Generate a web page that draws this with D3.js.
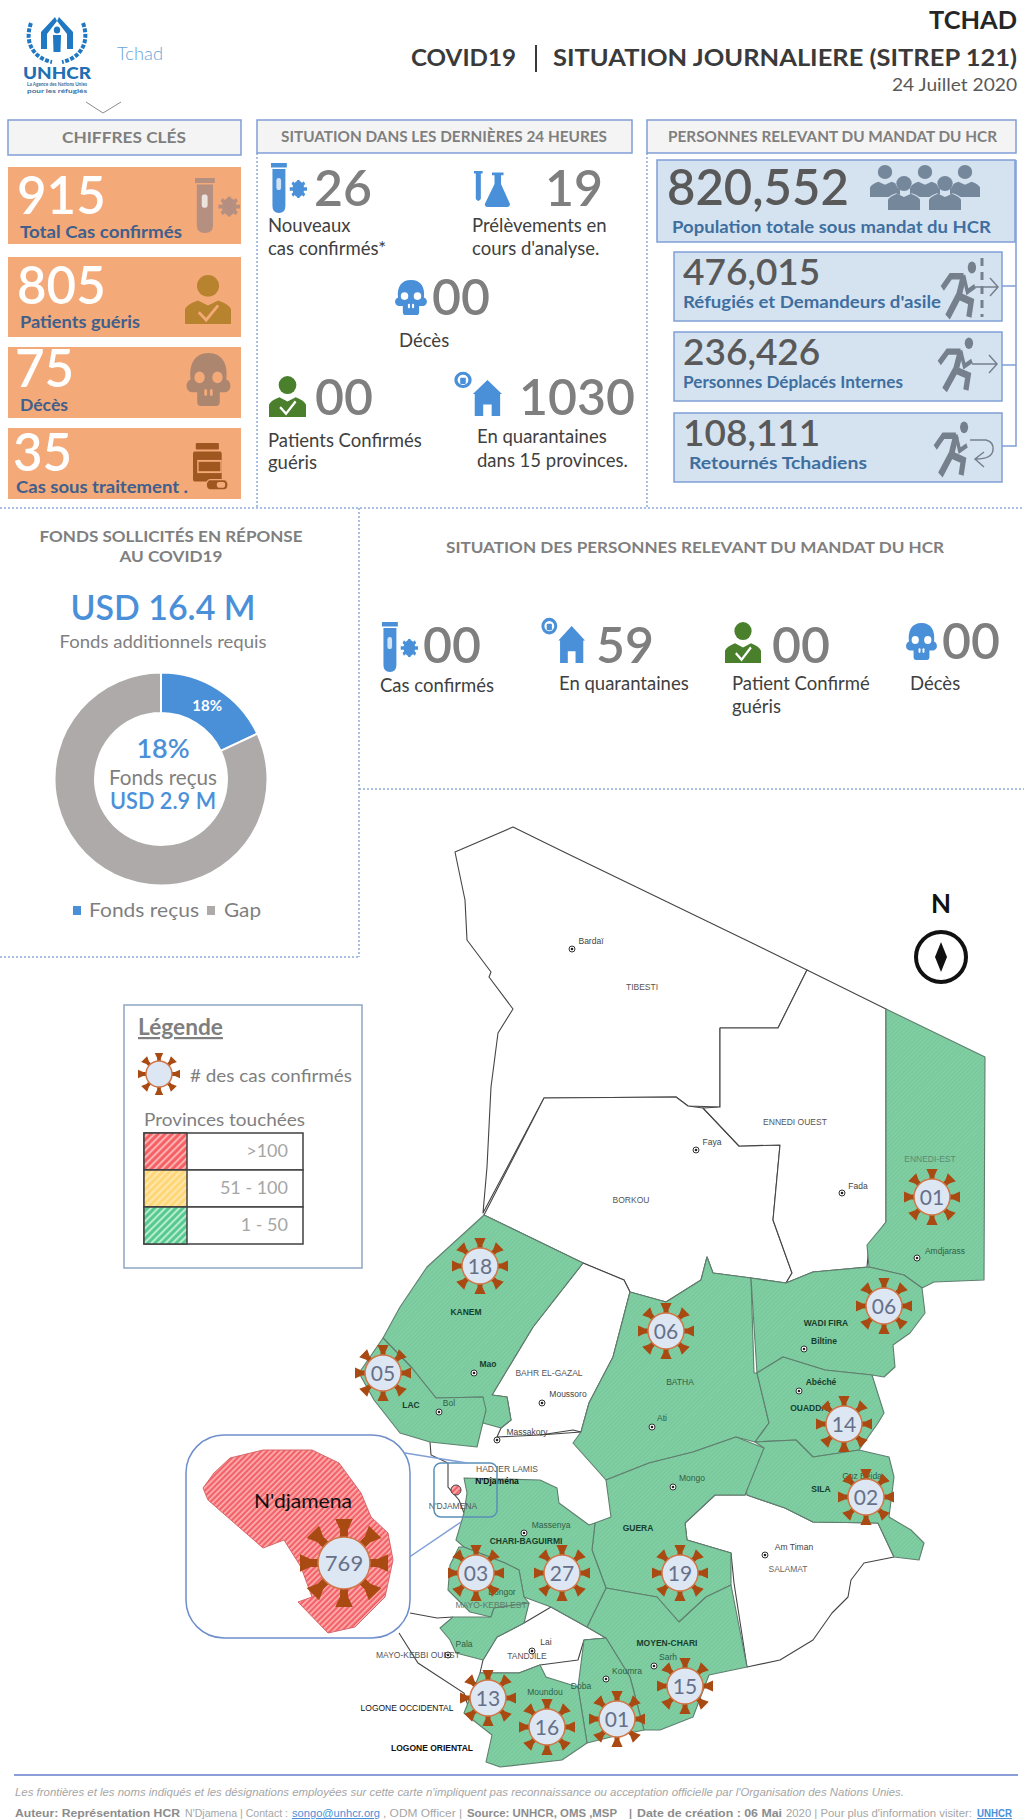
<!DOCTYPE html>
<html>
<head>
<meta charset="utf-8">
<script src="https://cdnjs.cloudflare.com/ajax/libs/d3/7.8.5/d3.min.js"></script>
<style>
	html, body { margin: 0; padding: 0; background: #fff; }
	svg { display: block; font-family: Lato, sans-serif; }
</style>
</head>
<body>
<svg id="page" width="1024" height="1820"></svg>
<script>
// key figures
const keyValues = [915, 805, 75, 35];
const keyLabels = ["Total Cas confirmés", "Patients guéris", "Décès", "Cas sous traitement ."];

// last 24 hours
const dayValues = ["26", "19", "00", "00", "1030"];
const dayLabels = [["Nouveaux", "cas confirmés*"], ["Prélèvements en", "cours d'analyse."], ["Décès"], ["Patients Confirmés", "guéris"], ["En quarantaines", "dans 15 provinces."]];

// persons of concern
const pocValues = [820552, 476015, 236426, 108111];
const pocLabels = ["Population totale sous mandat du HCR", "Réfugiés et Demandeurs d'asile", "Personnes Déplacés Internes", "Retournés Tchadiens"];
const pocCovidValues = ["00", "59", "00", "00"];
const pocCovidLabels = [["Cas confirmés"], ["En quarantaines"], ["Patient Confirmé", "guéris"], ["Décès"]];

// funding
const fundingCategories = ["Fonds reçus", "Gap"];
const fundingShares = [18, 82];

// map badges
const badgeProvinces = ["Ennedi Est", "Kanem", "Batha", "Wadi Fira", "Lac", "Ouaddaï", "Sila", "Mayo-Boneye", "Chari-Baguirmi", "Guéra", "Logone Occidental", "Logone Oriental", "Mandoul", "Moyen-Chari"];
const badgeCases = [1, 18, 6, 6, 5, 14, 2, 3, 27, 19, 13, 16, 1, 15];
const ndjamenaCases = 769;
const legendClasses = [">100", "51 - 100", "1 - 50"];

// layout, in page pixels
const keyBoxes = [[167, 244, 214, 238, 17, 20, 182], [257, 337, 304, 328, 17, 20, 140], [347, 418, 387, 411, 15, 20, 68], [428, 499, 471, 493, 13, 16, 188]];
const badgeAnchors = [[932, 1197], [480, 1266], [666, 1331], [884, 1306], [383, 1373], [844, 1424], [866, 1497], [476, 1573], [562, 1573], [680, 1573], [488, 1698], [547, 1727], [617, 1719], [685, 1686]];

const whiteProvinces = [
	[[455,852],[513,827],[566,853],[657,897],[752,943],[807,970],[778,1028],[720,1028],[720,1107],[688,1106],[676,1097],[544,1098],[483,1213],[487,1167],[491,1087],[498,1033],[513,1009],[489,977],[491,972],[467,940],[465,900]],
	[[544,1098],[676,1097],[688,1106],[703,1108],[739,1146],[780,1145],[773,1220],[792,1273],[786,1283],[751,1278],[713,1273],[707,1257],[701,1280],[666,1302],[630,1292],[624,1280],[583,1263],[484,1215]],
	[[807,970],[886,1009],[886,1222],[869,1245],[867,1267],[813,1272],[786,1283],[792,1273],[773,1220],[780,1145],[739,1146],[703,1108],[720,1107],[720,1028],[778,1028]],
	[[583,1263],[624,1280],[630,1292],[613,1357],[589,1403],[581,1432],[540,1435],[497,1437],[501,1428],[511,1420],[507,1397],[492,1395],[507,1370],[533,1327]],
	[[764,1448],[745,1495],[715,1495],[685,1523],[687,1540],[731,1553],[734,1583],[747,1667],[780,1660],[813,1640],[832,1613],[848,1597],[851,1580],[864,1563],[894,1557],[878,1523],[813,1522],[785,1508],[747,1495]],
	[[551,1607],[587,1627],[606,1638],[584,1640],[578,1660],[540,1665],[519,1673],[480,1673],[483,1660],[497,1637],[524,1623]]
];
const greenProvinces = [
	[[886,1009],[985,1057],[984,1280],[934,1282],[922,1288],[904,1275],[869,1267],[867,1245],[886,1222]],
	[[484,1215],[583,1263],[533,1327],[507,1370],[492,1395],[507,1397],[511,1420],[501,1428],[483,1423],[483,1397],[436,1398],[412,1368],[383,1338],[400,1307],[427,1267]],
	[[383,1338],[412,1368],[436,1398],[483,1397],[486,1410],[477,1447],[430,1442],[400,1433],[374,1400],[359,1373]],
	[[630,1292],[666,1302],[701,1280],[707,1257],[713,1273],[751,1278],[754,1373],[757,1373],[769,1423],[755,1442],[736,1437],[693,1452],[649,1463],[606,1480],[573,1443],[581,1432],[589,1403],[613,1357]],
	[[751,1278],[786,1283],[813,1272],[869,1267],[904,1275],[922,1288],[925,1313],[910,1333],[893,1345],[895,1367],[884,1377],[872,1375],[825,1370],[783,1357],[757,1373]],
	[[757,1373],[783,1357],[825,1370],[872,1375],[884,1413],[878,1423],[859,1450],[813,1457],[796,1440],[755,1442],[769,1423]],
	[[764,1448],[755,1442],[796,1440],[813,1457],[859,1450],[889,1457],[894,1477],[889,1517],[911,1530],[924,1543],[919,1560],[894,1557],[878,1523],[813,1522],[785,1508],[747,1495],[745,1480]],
	[[764,1448],[745,1495],[715,1495],[685,1523],[687,1540],[731,1553],[731,1585],[706,1597],[679,1622],[657,1597],[606,1588],[592,1550],[595,1523],[611,1517],[606,1480],[649,1463],[693,1452],[736,1437]],
	[[606,1588],[657,1597],[679,1622],[706,1597],[731,1585],[747,1667],[709,1675],[693,1717],[660,1730],[644,1730],[630,1677],[606,1638],[587,1627]],
	[[584,1640],[606,1638],[630,1677],[644,1730],[611,1737],[587,1743],[578,1687]],
	[[578,1687],[587,1743],[562,1760],[500,1767],[486,1762],[492,1735],[464,1713],[480,1673],[519,1673],[540,1665],[546,1677]],
	[[464,1478],[540,1480],[557,1488],[559,1503],[589,1525],[595,1523],[592,1550],[606,1588],[587,1627],[551,1607],[524,1597],[519,1570],[505,1563],[464,1547],[456,1540],[464,1513],[467,1493]],
	[[459,1547],[464,1547],[505,1563],[519,1570],[524,1597],[529,1603],[494,1608],[491,1617],[470,1612],[448,1590],[450,1565]],
	[[440,1628],[453,1617],[491,1617],[494,1608],[529,1603],[524,1623],[497,1637],[483,1660],[456,1653],[450,1640]]
];
const borderLines = [
	[[430,1442],[431,1455],[448,1463],[448,1487],[459,1500],[464,1513]],
	[[399,1633],[418,1663],[464,1693],[470,1712]],
	[[410,1613],[437,1618],[453,1617]],
	[[546,1677],[553,1695],[566,1722],[587,1743]],
	[[540,1435],[573,1430],[581,1432]]
];
const ndjamenaShape = [[203,1488],[214,1473],[230,1458],[263,1450],[312,1450],[339,1463],[361,1493],[371,1517],[388,1533],[393,1560],[385,1597],[355,1627],[328,1633],[298,1602],[312,1597],[301,1567],[284,1540],[263,1548],[208,1500]];

const mapLabels = [
	["TIBESTI", 642, 990, "#555"], ["ENNEDI OUEST", 795, 1125, "#555"], ["BORKOU", 631, 1203, "#555"], ["ENNEDI-EST", 930, 1162, "#5d8a72"],
	["Bardaï", 591, 944, "#444"], ["Faya", 712, 1145, "#444"], ["Fada", 858, 1189, "#444"], ["Amdjarass", 945, 1254, "#2f5f46"],
	["KANEM", 466, 1315, "#173f2c", 1], ["Mao", 488, 1367, "#173f2c", 1], ["BAHR EL-GAZAL", 549, 1376, "#555"], ["Moussoro", 568, 1397, "#444"],
	["Massakory", 527, 1435, "#444"], ["LAC", 411, 1408, "#173f2c", 1], ["Bol", 449, 1406, "#2f5f46"], ["BATHA", 680, 1385, "#2f5f46"],
	["Ati", 662, 1421, "#2f5f46"], ["WADI FIRA", 826, 1326, "#173f2c", 1], ["Biltine", 824, 1344, "#173f2c", 1], ["Abéché", 821, 1385, "#173f2c", 1],
	["OUADDAÏ", 810, 1411, "#173f2c", 1], ["HADJER LAMIS", 507, 1472, "#555"], ["N'Djaména", 497, 1484, "#111", 1], ["N'DJAMENA", 453, 1509, "#555"],
	["Mongo", 692, 1481, "#2f5f46"], ["SILA", 821, 1492, "#173f2c", 1], ["Goz Beida", 862, 1479, "#2f5f46"], ["GUERA", 638, 1531, "#173f2c", 1],
	["Massenya", 551, 1528, "#2f5f46"], ["CHARI-BAGUIRMI", 526, 1544, "#173f2c", 1], ["Am Timan", 794, 1550, "#444"], ["SALAMAT", 788, 1572, "#666"],
	["Bongor", 502, 1595, "#2f5f46"], ["MAYO-KEBBI EST", 491, 1608, "#5d7a6c"], ["Pala", 464, 1647, "#2f5f46"], ["MAYO-KEBBI OUEST", 418, 1658, "#555"],
	["Lai", 546, 1645, "#444"], ["TANDJILE", 527, 1659, "#555"], ["MOYEN-CHARI", 667, 1646, "#173f2c", 1], ["Sarh", 668, 1660, "#2f5f46"],
	["Koumra", 627, 1674, "#2f5f46"], ["Doba", 581, 1689, "#2f5f46"], ["Moundou", 545, 1695, "#2f5f46"], ["LOGONE OCCIDENTAL", 407, 1711, "#111"], ["LOGONE ORIENTAL", 432, 1751, "#111", 1]
];
const cityDots = [[572,949],[696,1150],[842,1193],[917,1258],[474,1373],[542,1403],[497,1440],[439,1412],[652,1427],[804,1349],[799,1391],[673,1487],[524,1533],[765,1555],[448,1655],[532,1651],[654,1666],[606,1679]];

const svg = d3.select("#page");
const defs = svg.append("defs");

function hatch(id, base, stripe, size) {
	const p = defs.append("pattern")
		.attr("id", id)
		.attr("width", size)
		.attr("height", size)
		.attr("patternUnits", "userSpaceOnUse")
		.attr("patternTransform", "rotate(-45)");
	p.append("rect").attr("width", size).attr("height", size).attr("fill", base);
	p.append("rect").attr("width", size).attr("height", size / 2.4).attr("fill", stripe);
}
hatch("hatch-green", "#78c99c", "#84d0a6", 3);
hatch("hatch-green-strong", "#55c98d", "#b5ecd0", 5);
hatch("hatch-red", "#f26268", "#ffb3b3", 4);
hatch("hatch-red-strong", "#f55f63", "#ffb0b0", 5);
hatch("hatch-yellow", "#ffd676", "#ffe6aa", 5);

function txt(g, x, y, str, o) {
	o = o || {};
	const t = g.append("text")
		.attr("x", x)
		.attr("y", y)
		.attr("font-size", o.size || 16)
		.attr("font-weight", o.weight || 400)
		.attr("fill", o.fill || "#595959")
		.attr("text-anchor", o.anchor || "start")
		.text(str);
	if (o.family) t.attr("font-family", o.family);
	if (o.style) t.attr("font-style", o.style);
	if (o.deco) t.attr("text-decoration", o.deco);
	if (o.width) t.attr("textLength", o.width).attr("lengthAdjust", "spacingAndGlyphs");
	return t;
}

function iconGroup(x, y, w, h) {
	return svg.append("g").attr("transform", `translate(${x},${y}) scale(${w / 100},${h / 100})`);
}

function drawTube(x, y, w, h, color) {
	const g = iconGroup(x, y, w, h);
	g.append("rect").attr("x", 0).attr("y", 0).attr("width", 44).attr("height", 9).attr("fill", color);
	g.append("path").attr("d", "M4 12 H40 V86 Q40 100 22 100 Q4 100 4 86 Z").attr("fill", color);
	g.append("rect").attr("x", 15).attr("y", 30).attr("width", 13).attr("height", 24).attr("rx", 5).attr("fill", "#fff").attr("opacity", 0.75);
	g.append("circle").attr("cx", 76).attr("cy", 52).attr("r", 16).attr("fill", color);
	d3.range(8).forEach((i) => {
		const a = (i * Math.PI) / 4;
		g.append("line")
			.attr("x1", 76).attr("y1", 52)
			.attr("x2", 76 + 24 * Math.cos(a)).attr("y2", 52 + 18 * Math.sin(a))
			.attr("stroke", color).attr("stroke-width", 7);
	});
}

function drawFlask(x, y, w, h, color) {
	const g = iconGroup(x, y, w, h);
	g.append("path").attr("d", "M0 0 H24 V7 H19 V78 Q12 88 5 78 V7 H0 Z").attr("fill", color);
	g.append("path").attr("d", "M50 4 H82 V12 H75 V36 L100 92 Q100 100 92 100 H38 Q30 100 30 92 L57 36 V12 H50 Z").attr("fill", color);
}

function drawSkull(x, y, w, h, color, hole) {
	const g = iconGroup(x, y, w, h);
	g.append("path").attr("d", "M50 0 C20 0 8 22 12 50 C0 54 0 72 14 74 L26 74 L26 92 Q26 100 34 100 L66 100 Q74 100 74 92 L74 74 L86 74 C100 72 100 54 88 50 C92 22 80 0 50 0 Z").attr("fill", color);
	g.append("circle").attr("cx", 31).attr("cy", 46).attr("r", 11).attr("fill", hole);
	g.append("circle").attr("cx", 69).attr("cy", 46).attr("r", 11).attr("fill", hole);
	g.append("rect").attr("x", 41).attr("y", 68).attr("width", 6).attr("height", 13).attr("rx", 3).attr("fill", hole);
	g.append("rect").attr("x", 53).attr("y", 68).attr("width", 6).attr("height", 13).attr("rx", 3).attr("fill", hole);
}

function drawPerson(x, y, w, h, color, tick) {
	const g = iconGroup(x, y, w, h);
	g.append("ellipse").attr("cx", 50).attr("cy", 22).attr("rx", 24).attr("ry", 22).attr("fill", color);
	g.append("path").attr("d", "M0 100 V70 Q4 60 28 52 L50 62 L72 52 Q96 60 100 70 V100 Z").attr("fill", color);
	if (tick) {
		g.append("path").attr("d", "M30 76 L46 92 L72 62").attr("fill", "none").attr("stroke", tick).attr("stroke-width", 6);
	}
}

function drawHouse(x, y, w, h, color) {
	const g = iconGroup(x, y, w, h);
	g.append("circle").attr("cx", 17).attr("cy", 18).attr("r", 15).attr("fill", "#fff").attr("stroke", color).attr("stroke-width", 7);
	g.append("rect").attr("x", 11).attr("y", 13).attr("width", 12).attr("height", 14).attr("rx", 2).attr("fill", color);
	g.append("path").attr("d", "M38 50 L69 18 L100 50 H96 V100 H78 V74 H60 V100 H42 V50 Z").attr("fill", color);
}

function drawJar(x, y, w, h, color, light) {
	const g = iconGroup(x, y, w, h);
	g.append("rect").attr("x", 8).attr("y", 0).attr("width", 66).attr("height", 14).attr("rx", 3).attr("fill", color);
	g.append("rect").attr("x", 0).attr("y", 18).attr("width", 82).attr("height", 64).attr("rx", 5).attr("fill", color);
	g.append("rect").attr("x", 14).attr("y", 38).attr("width", 66).attr("height", 24).attr("fill", "none").attr("stroke", light).attr("stroke-width", 4);
	g.append("rect").attr("x", 38).attr("y", 78).attr("width", 62).attr("height", 22).attr("rx", 11).attr("fill", color).attr("stroke", light).attr("stroke-width", 3);
	g.append("rect").attr("x", 68).attr("y", 83).attr("width", 24).attr("height", 12).attr("rx", 6).attr("fill", light);
}

function drawRunner(x, y, w, h, color) {
	const g = iconGroup(x, y, w, h);
	g.append("circle").attr("cx", 84).attr("cy", 10).attr("r", 11).attr("fill", color);
	g.append("path").attr("d", "M62 26 L50 60 L20 100").attr("fill", "none").attr("stroke", color).attr("stroke-width", 15);
	g.append("path").attr("d", "M50 62 L82 72 L76 100").attr("fill", "none").attr("stroke", color).attr("stroke-width", 14);
	g.append("path").attr("d", "M62 26 L28 26 L6 48").attr("fill", "none").attr("stroke", color).attr("stroke-width", 12);
	g.append("path").attr("d", "M62 24 L72 54 L92 44").attr("fill", "none").attr("stroke", color).attr("stroke-width", 9);
}

function drawVirus(cx, cy, r, outer, label, size) {
	const g = svg.append("g").attr("transform", `translate(${cx},${cy})`);
	const angle = d3.scaleLinear().domain([0, 8]).range([0, 360]);
	d3.range(8).forEach((i) => {
		const head = outer * 0.2;
		g.append("path")
			.attr("d", `M${-head} ${-outer} H${head} L${head * 0.45} ${-outer * 0.76} V${-r} H${-head * 0.45} V${-outer * 0.76} Z`)
			.attr("fill", "#a94a12")
			.attr("transform", `rotate(${angle(i)})`);
	});
	g.append("circle").attr("r", r).attr("fill", "#dde6f3").attr("stroke", "#d0784a").attr("stroke-width", 1.5);
	if (label) {
		txt(g, 0, size * 0.36, label, { size, anchor: "middle", fill: "#667088" });
	}
}

// dotted panel rules
[[0, 508, 1024, 508], [359, 508, 359, 957], [359, 789, 1024, 789], [0, 957, 359, 957], [257, 153, 257, 508], [647, 153, 647, 508]].forEach((d) => {
	svg.append("line")
		.attr("x1", d[0]).attr("y1", d[1]).attr("x2", d[2]).attr("y2", d[3])
		.attr("stroke", "#8faadc").attr("stroke-width", 1.5).attr("stroke-dasharray", "2,2");
});

// logo
const logo = svg.append("g").attr("fill", "#1f78c1");
const emblem = logo.append("g").attr("transform", "translate(57,40)");
emblem.append("path").attr("d", "M-26 -17 C-33 2 -24 18 -5 22").attr("fill", "none").attr("stroke", "#1f78c1").attr("stroke-width", 4).attr("stroke-dasharray", "4,1.5");
emblem.append("path").attr("d", "M26 -17 C33 2 24 18 5 22").attr("fill", "none").attr("stroke", "#1f78c1").attr("stroke-width", 4).attr("stroke-dasharray", "4,1.5");
emblem.append("path").attr("d", "M-16 9 L-16 -8 L-2 -23 L0 -19 L-10 -6 L-10 9 Z");
emblem.append("path").attr("d", "M16 9 L16 -8 L2 -23 L0 -19 L10 -6 L10 9 Z");
emblem.append("ellipse").attr("cx", 0).attr("cy", -10).attr("rx", 3.2).attr("ry", 3.6);
emblem.append("path").attr("d", "M-4 -5 H4 L3.5 12 H-3.5 Z");
txt(logo, 57, 79, "UNHCR", { size: 16.5, weight: 900, fill: "#1f6fb5", anchor: "middle", width: 68 });
txt(logo, 57, 86, "La Agence des Nations Unies", { size: 5.5, weight: 700, fill: "#3b6f9f", anchor: "middle", width: 60 });
txt(logo, 57, 93, "pour les réfugiés", { size: 5.5, weight: 700, fill: "#3b6f9f", anchor: "middle", width: 60 });
txt(svg, 117, 60, "Tchad", { size: 18, fill: "#69a3d8", weight: 300, width: 46 });
svg.append("path").attr("d", "M86 102 L103 113 L121 102").attr("fill", "none").attr("stroke", "#8c8c8c").attr("stroke-width", 1);

// header
txt(svg, 1017, 29, "TCHAD", { size: 24, weight: 700, fill: "#262626", anchor: "end", width: 88 });
txt(svg, 411, 66, "COVID19", { size: 22, weight: 700, fill: "#3a3a3a", width: 105 });
svg.append("line").attr("x1", 536).attr("x2", 536).attr("y1", 45).attr("y2", 72).attr("stroke", "#3a3a3a").attr("stroke-width", 2);
txt(svg, 553, 66, "SITUATION JOURNALIERE (SITREP 121)", { size: 22, weight: 700, fill: "#3a3a3a", width: 464 });
txt(svg, 1017, 91, "24 Juillet 2020", { size: 18, fill: "#595959", anchor: "end", width: 125 });

// section headings
[[8, 241, 155, "CHIFFRES CLÉS", 62, 124, 143], [257, 632, 153, "SITUATION DANS LES DERNIÈRES 24 HEURES", 281, 326, 142], [647, 1016, 153, "PERSONNES RELEVANT DU MANDAT DU HCR", 668, 329, 142]].forEach((d) => {
	svg.append("rect")
		.attr("x", d[0]).attr("y", 120).attr("width", d[1] - d[0]).attr("height", d[2] - 120)
		.attr("fill", "#f4f4f4").attr("stroke", "#7f9fd6").attr("stroke-width", 1.5);
	txt(svg, d[4], d[6], d[3], { size: 15.5, weight: 700, fill: "#7f7f7f", width: d[5] });
});

// key figures
keyBoxes.forEach((b, i) => {
	svg.append("rect").attr("x", 8).attr("y", b[0]).attr("width", 233).attr("height", b[1] - b[0]).attr("fill", "#f4a978");
	txt(svg, b[4], b[2], keyValues[i], { size: 51, weight: 600, fill: "#fff" });
	txt(svg, b[5], b[3], keyLabels[i], { size: 17, weight: 700, fill: "#3f5f8c", width: b[6] - b[5] });
});
drawTube(195, 178, 45, 55, "#b58f80");
drawPerson(185, 275, 46, 49, "#b8832f", "#f4a978");
drawSkull(185, 353, 47, 53, "#ad8670", "#f4a978");
drawJar(193, 443, 35, 47, "#9f5720", "#f4a978");

// last 24 hours
const blue = "#4a90d9";
drawTube(271, 163, 36, 50, blue);
drawFlask(474, 171, 36, 36, blue);
drawSkull(394, 280, 34, 35, blue, "#fff");
drawPerson(269, 376, 37, 41, "#4a7f2c", "#fff");
drawHouse(455, 372, 47, 44, blue);

const daySlots = [[314, 206, 268, [232, 255]], [545, 206, 472, [232, 255]], [432, 315, 399, [347]], [315, 415, 268, [447, 469]], [519, 415, 477, [443, 467]]];
dayValues.forEach((v, i) => {
	const s = daySlots[i];
	txt(svg, s[0], s[1], v, { size: 50, weight: 600, fill: "#7f7f7f" });
	dayLabels[i].forEach((line, j) => txt(svg, s[2], s[3][j], line, { size: 18.5, fill: "#404040" }));
});

// persons of concern boxes
const commaFormat = d3.format(",");
const pocBoxes = [[657, 160, 358, 82], [674, 252, 328, 69], [674, 332, 328, 69], [674, 413, 328, 69]];
const pocText = [[667, 205, 49, 672, 233, 319], [683, 285, 37, 683, 308, 258], [683, 365, 37, 683, 388, 220], [683, 446, 37, 689, 469, 178]];
svg.append("path")
	.attr("d", "M1016 160 V446 H1002 M1002 286 H1016 M1002 365 H1016")
	.attr("fill", "none").attr("stroke", "#7f9fd6").attr("stroke-width", 1.5);
pocBoxes.forEach((b, i) => {
	svg.append("rect")
		.attr("x", b[0]).attr("y", b[1]).attr("width", b[2]).attr("height", b[3])
		.attr("fill", "#d5e3f1").attr("stroke", "#7f9fd6").attr("stroke-width", 1.5);
	const t = pocText[i];
	txt(svg, t[0], t[1], commaFormat(pocValues[i]), { size: t[2], weight: 600, fill: "#595959" });
	txt(svg, t[3], t[4], pocLabels[i], { size: 17.5, weight: 700, fill: "#3f6f9f", width: t[5] });
});

const peopleColor = "#75879b";
[[870, 165, 30, 32], [910, 165, 30, 32], [950, 165, 30, 32]].forEach((d) => drawPerson(d[0], d[1], d[2], d[3], peopleColor));
[[888, 176, 32, 34], [929, 176, 32, 34]].forEach((d) => {
	drawPerson(d[0] - 2, d[1] - 2, d[2] + 4, d[3] + 3, "#d5e3f1");
	drawPerson(d[0], d[1], d[2], d[3], peopleColor);
});

drawRunner(940, 262, 38, 55, "#75808c");
drawRunner(937, 338, 38, 52, "#75808c");
drawRunner(933, 422, 37, 53, "#75808c");
const arrowColor = "#75808c";
svg.append("path").attr("d", "M975 287 H998 M990 278 L998 287 L990 296").attr("fill", "none").attr("stroke", arrowColor).attr("stroke-width", 1.5);
svg.append("line").attr("x1", 982).attr("x2", 982).attr("y1", 258).attr("y2", 317).attr("stroke", arrowColor).attr("stroke-width", 3).attr("stroke-dasharray", "8,6");
svg.append("path").attr("d", "M972 364 H997 M989 355 L997 364 L989 373").attr("fill", "none").attr("stroke", arrowColor).attr("stroke-width", 1.5);
svg.append("path").attr("d", "M970 440 H986 Q994 442 993 450 Q992 459 976 459 M984 452 L975 459 L984 467").attr("fill", "none").attr("stroke", arrowColor).attr("stroke-width", 1.5);

// funding panel
txt(svg, 171, 542, "FONDS SOLLICITÉS EN RÉPONSE", { size: 16, weight: 700, fill: "#7f7f7f", anchor: "middle", width: 263 });
txt(svg, 171, 562, "AU COVID19", { size: 16, weight: 700, fill: "#7f7f7f", anchor: "middle", width: 103 });
txt(svg, 163, 620, "USD 16.4 M", { size: 35, weight: 600, fill: blue, anchor: "middle", width: 185 });
txt(svg, 163, 648, "Fonds additionnels requis", { size: 18, fill: "#7f7f7f", anchor: "middle", width: 207 });

const fundingColor = d3.scaleOrdinal().domain(fundingCategories).range([blue, "#aeaaaa"]);
const pie = d3.pie().sort(null).value((d) => d.share);
const arc = d3.arc().innerRadius(66).outerRadius(106.5);
const fundingRows = fundingCategories.map((c, i) => ({ category: c, share: fundingShares[i] }));
const donut = svg.append("g").attr("transform", "translate(161,779)");
donut.selectAll("path")
	.data(pie(fundingRows))
	.join("path")
	.attr("d", arc)
	.attr("fill", (d) => fundingColor(d.data.category))
	.attr("stroke", "#fff")
	.attr("stroke-width", 2);
const firstSlice = pie(fundingRows)[0];
const slicePos = arc.centroid(firstSlice);
txt(donut, slicePos[0], slicePos[1] + 5, `${fundingShares[0]}%`, { size: 15, weight: 700, fill: "#fff", anchor: "middle" });
txt(svg, 163, 758, `${fundingShares[0]}%`, { size: 27, weight: 600, fill: blue, anchor: "middle" });
txt(svg, 163, 785, "Fonds reçus", { size: 21, fill: "#7f7f7f", anchor: "middle", width: 108 });
txt(svg, 163, 809, "USD 2.9 M", { size: 22, weight: 600, fill: blue, anchor: "middle", width: 106 });

[[73, 89, 199], [207, 224, 261]].forEach((d, i) => {
	svg.append("rect").attr("x", d[0]).attr("y", 906).attr("width", 8).attr("height", 9).attr("fill", fundingColor(fundingCategories[i]));
	txt(svg, d[1], 917, fundingCategories[i], { size: 19, fill: "#7f7f7f", width: d[2] - d[1] });
});

// situation of persons of concern
txt(svg, 446, 553, "SITUATION DES PERSONNES RELEVANT DU MANDAT DU HCR", { size: 16, weight: 700, fill: "#7f7f7f", width: 498 });
drawTube(382, 622, 36, 50, blue);
drawHouse(542, 618, 43, 45, blue);
drawPerson(725, 622, 36, 41, "#4a7f2c", "#fff");
drawSkull(905, 623, 33, 37, blue, "#fff");
const pocSlots = [[423, 663, 380, [692]], [596, 663, 559, [690]], [772, 663, 732, [690, 713]], [942, 659, 910, [690]]];
pocCovidValues.forEach((v, i) => {
	const s = pocSlots[i];
	txt(svg, s[0], s[1], v, { size: 50, weight: 600, fill: "#7f7f7f" });
	pocCovidLabels[i].forEach((line, j) => txt(svg, s[2], s[3][j], line, { size: 18.5, fill: "#404040" }));
});

// map
const projection = d3.geoIdentity();
const geoPath = d3.geoPath(projection);
function polygonFeature(ring) {
	return { type: "Polygon", coordinates: [ring.concat([ring[0]])] };
}
const mapGroup = svg.append("g");
mapGroup.selectAll(".white")
	.data(whiteProvinces)
	.join("path")
	.attr("d", (d) => geoPath(polygonFeature(d)))
	.attr("fill", "#fff")
	.attr("stroke", "#444")
	.attr("stroke-width", 1.1)
	.attr("stroke-linejoin", "round");
mapGroup.append("path")
	.attr("d", geoPath({ type: "MultiLineString", coordinates: borderLines }))
	.attr("fill", "none")
	.attr("stroke", "#444")
	.attr("stroke-width", 1.1);
mapGroup.selectAll(".green")
	.data(greenProvinces)
	.join("path")
	.attr("d", (d) => geoPath(polygonFeature(d)))
	.attr("fill", "url(#hatch-green)")
	.attr("stroke", "#5f7f6e")
	.attr("stroke-width", 1.1)
	.attr("stroke-linejoin", "round");

cityDots.forEach((d) => {
	mapGroup.append("circle").attr("cx", d[0]).attr("cy", d[1]).attr("r", 3).attr("fill", "#fff").attr("stroke", "#333").attr("stroke-width", 1);
	mapGroup.append("circle").attr("cx", d[0]).attr("cy", d[1]).attr("r", 1.3).attr("fill", "#222");
});
mapLabels.forEach((d) => {
	txt(mapGroup, d[1], d[2], d[0], { size: 8.5, weight: d[4] ? 700 : 400, fill: d[3], anchor: "middle", family: "'Liberation Sans', sans-serif" });
});

// compass
txt(svg, 941, 913, "N", { size: 26, weight: 700, fill: "#111", anchor: "middle" });
svg.append("circle").attr("cx", 941).attr("cy", 957).attr("r", 25).attr("fill", "#fff").attr("stroke", "#111").attr("stroke-width", 4);
svg.append("path").attr("d", "M941 942 L947 957 L941 972 L935 957 Z").attr("fill", "#111");

// N'Djamena pointer and inset
svg.append("rect").attr("x", 434).attr("y", 1463).attr("width", 63).attr("height", 54).attr("rx", 7).attr("fill", "none").attr("stroke", "#5a8fb8").attr("stroke-width", 1.5);
svg.append("path").attr("d", "M405 1453 L467 1463 M405 1560 L461 1522").attr("fill", "none").attr("stroke", "#7f9fd6").attr("stroke-width", 1.5);
svg.append("circle").attr("cx", 456).attr("cy", 1490).attr("r", 5).attr("fill", "url(#hatch-red)").attr("stroke", "#444").attr("stroke-width", 1);
svg.append("rect").attr("x", 186).attr("y", 1435).attr("width", 224).attr("height", 203).attr("rx", 38).attr("fill", "#fff").attr("stroke", "#6f8fcb").attr("stroke-width", 1.5);
svg.append("path")
	.attr("d", geoPath(polygonFeature(ndjamenaShape)))
	.attr("fill", "url(#hatch-red)")
	.attr("stroke", "#d8666a")
	.attr("stroke-width", 1);
txt(svg, 303, 1508, "N'djamena", { size: 20, fill: "#111", anchor: "middle", width: 98 });

// case badges
const caseLabel = d3.format("02");
badgeProvinces.forEach((name, i) => {
	drawVirus(badgeAnchors[i][0], badgeAnchors[i][1], 18, 28, caseLabel(badgeCases[i]), 21);
});
drawVirus(344, 1563, 26, 44, String(ndjamenaCases), 22);

// legend
svg.append("rect").attr("x", 124).attr("y", 1005).attr("width", 238).attr("height", 263).attr("fill", "#fff").attr("stroke", "#8ea6c4").attr("stroke-width", 1.5);
txt(svg, 138, 1035, "Légende", { size: 22, weight: 700, fill: "#7f7f7f", deco: "underline", width: 85 });
drawVirus(159, 1074, 13, 21);
txt(svg, 190, 1082, "# des cas confirmés", { size: 18, fill: "#7f7f7f", width: 162 });
txt(svg, 144, 1126, "Provinces touchées", { size: 18, fill: "#7f7f7f", width: 161 });
const legendY = d3.scalePoint().domain(legendClasses).range([1133, 1207]);
const legendFills = ["url(#hatch-red-strong)", "url(#hatch-yellow)", "url(#hatch-green-strong)"];
legendClasses.forEach((c, i) => {
	const y = legendY(c);
	svg.append("rect").attr("x", 144).attr("y", y).attr("width", 159).attr("height", 37).attr("fill", "#fff").attr("stroke", "#404040").attr("stroke-width", 1.5);
	svg.append("rect").attr("x", 144).attr("y", y).attr("width", 43).attr("height", 37).attr("fill", legendFills[i]).attr("stroke", "#404040").attr("stroke-width", 1.5);
	txt(svg, 288, y + 24, c, { size: 18, fill: "#a6a6a6", anchor: "end" });
});

// footer
svg.append("line").attr("x1", 14).attr("x2", 1018).attr("y1", 1775).attr("y2", 1775).attr("stroke", "#8a9fd8").attr("stroke-width", 2);
txt(svg, 15, 1796, "Les frontières et les noms indiqués et les désignations employées sur cette carte n'impliquent pas reconnaissance ou acceptation officielle par l'Organisation des Nations Unies.", { size: 10, style: "italic", fill: "#a6a6a6", width: 889, family: "'Liberation Sans', sans-serif" });
const footerParts = [
	["Auteur: Représentation HCR", 15, 165, 700, "#8c8c8c"], ["N'Djamena | Contact :", 185, 103, 400, "#a6a6a6"], ["songo@unhcr.org", 292, 88, 400, "#4a90d9", "underline"],
	[", ODM Officer |", 383, 79, 400, "#a6a6a6"], ["Source: UNHCR, OMS ,MSP", 467, 150, 700, "#8c8c8c"], ["|", 629, 3, 700, "#8c8c8c"],
	["Date de création : 06 Mai", 637, 145, 700, "#8c8c8c"], ["2020 | Pour plus d'information visiter:", 786, 186, 400, "#a6a6a6"], ["UNHCR", 977, 35, 700, "#4a90d9", "underline"]
];
footerParts.forEach((d) => {
	txt(svg, d[1], 1817, d[0], { size: 10.5, weight: d[3], fill: d[4], width: d[2], deco: d[5], family: "'Liberation Sans', sans-serif" });
});
</script>
</body>
</html>
